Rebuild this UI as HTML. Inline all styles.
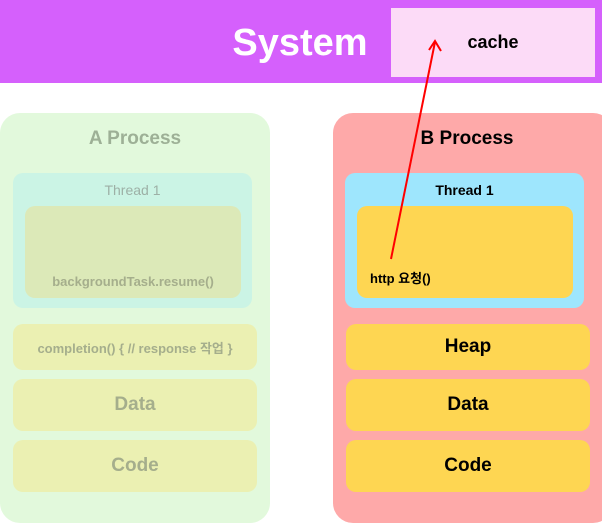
<!DOCTYPE html>
<html><head><meta charset="utf-8"><style>
body{margin:0;width:602px;height:517px;position:relative;background:#fff;font-family:"Liberation Sans","Noto Sans CJK KR",sans-serif;overflow:hidden}
div{position:absolute;box-sizing:border-box}
.c{display:flex;align-items:center;justify-content:center;font-weight:bold}
</style></head><body>
<div style="left:0;top:0;width:602px;height:83px;background:#d560fc"></div>
<div class="c" style="left:200px;top:18px;width:200px;height:50px;color:#fff;font-size:38px">System</div>
<div class="c" style="left:391px;top:8px;width:204px;height:69px;background:#fcdbf7;font-size:18px;color:#000">cache</div>

<div style="left:0;top:113px;width:270px;height:410px;background:#e2f9dc;border-radius:20px"></div>
<div class="c" style="left:0;top:126px;width:270px;height:26px;font-size:19px;color:#9db096">A Process</div>
<div style="left:13px;top:173px;width:239px;height:135px;background:#cbf4e5;border-radius:10px"></div>
<div class="c" style="left:13px;top:180px;width:239px;height:20px;font-size:14px;color:#9db0a6;font-weight:normal">Thread 1</div>
<div style="left:25px;top:206px;width:216px;height:92px;background:#dce9b8;border-radius:10px"></div>
<div class="c" style="left:25px;top:271px;width:216px;height:20px;font-size:13px;color:#a5ae8c">backgroundTask.resume()</div>
<div class="c" style="left:13px;top:324px;width:244px;height:46px;background:#ebf0b2;border-radius:10px;font-size:13px;color:#a5ae8c">completion() { // response 작업 }</div>
<div class="c" style="left:13px;top:379px;width:244px;height:52px;background:#ebf0b2;border-radius:10px;font-size:19px;color:#a5ae8c">Data</div>
<div class="c" style="left:13px;top:440px;width:244px;height:52px;background:#ebf0b2;border-radius:10px;font-size:19px;color:#a5ae8c">Code</div>

<div style="left:333px;top:113px;width:280px;height:410px;background:#fea9a9;border-radius:20px"></div>
<div class="c" style="left:332px;top:126px;width:270px;height:26px;font-size:19px;color:#000">B Process</div>
<div style="left:345px;top:173px;width:239px;height:135px;background:#9ee6fd;border-radius:10px"></div>
<div class="c" style="left:345px;top:180px;width:239px;height:20px;font-size:14px;color:#000">Thread 1</div>
<div style="left:357px;top:206px;width:216px;height:92px;background:#fed652;border-radius:10px"></div>
<div style="left:370px;top:268px;font-size:13px;font-weight:bold;color:#000">http 요청()</div>
<div class="c" style="left:346px;top:324px;width:244px;height:46px;background:#fed652;border-radius:10px;font-size:19px;color:#000">Heap</div>
<div class="c" style="left:346px;top:379px;width:244px;height:52px;background:#fed652;border-radius:10px;font-size:19px;color:#000">Data</div>
<div class="c" style="left:346px;top:440px;width:244px;height:52px;background:#fed652;border-radius:10px;font-size:19px;color:#000">Code</div>

<svg style="position:absolute;left:0;top:0" width="602" height="517">
<line x1="391" y1="259" x2="435" y2="42" stroke="#f00" stroke-width="2"/>
<polyline points="429,50 435,41 441,51" fill="none" stroke="#f00" stroke-width="2"/>
</svg>
</body></html>
